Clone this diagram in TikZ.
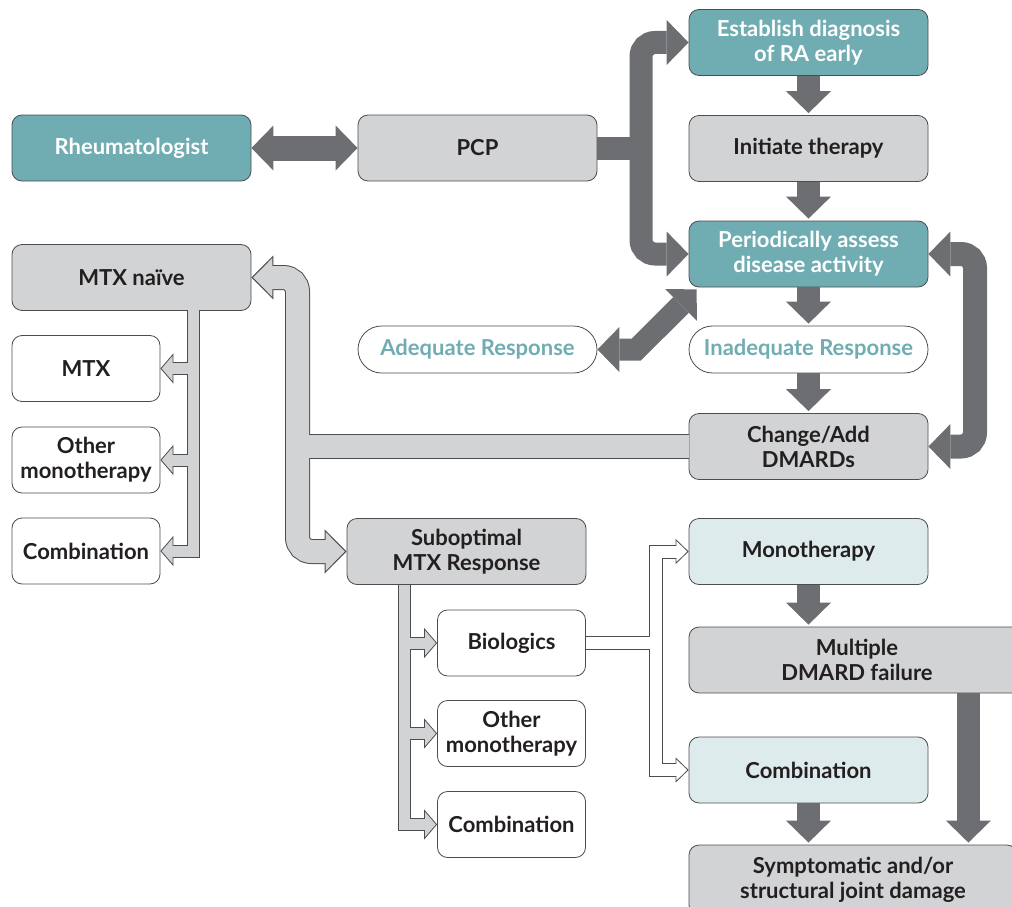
\documentclass[tikz,border=0pt]{standalone}
\usepackage{fontspec}
\setmainfont{Lato}
\usetikzlibrary{arrows.meta,calc}

\definecolor{raTeal}{RGB}{112,173,179}
\definecolor{raGray}{RGB}{209,211,212}
\definecolor{raDark}{RGB}{109,110,113}
\definecolor{raPale}{RGB}{221,235,236}
\definecolor{raEdge}{RGB}{77,77,79}
\definecolor{raInk}{RGB}{35,31,32}
\newcommand{\boxfont}{\bfseries\fontsize{22}{25}\selectfont}

\tikzset{
  box/.style={draw=raEdge, line width=0.8pt, rounded corners=10pt, minimum width=239pt,
    minimum height=66pt, inner sep=0pt, align=center, font=\boxfont, text=raInk},
  tealbox/.style={box, fill=raTeal, text=white},
  graybox/.style={box, fill=raGray},
  palebox/.style={box, fill=raPale},
  smallbox/.style={box, fill=white, minimum width=148pt},
  pill/.style={box, fill=white, rounded corners=23.5pt, minimum height=47pt, text=raTeal},
  dtip/.tip={Triangle[length=22pt,width=45pt,line width=0pt]},
  lhead/.tip={Triangle[length=22pt,width=44pt,line width=1pt,fill=raGray]},
  shead/.tip={Triangle[length=13pt,width=30pt,line width=0.8pt,fill=raGray]},
  whead/.tip={Triangle[length=13pt,width=25pt,line width=0.8pt,fill=white]},
  dshaft/.style={draw=raDark, line width=23pt},
  dflow/.style={dshaft, -{dtip}, shorten >=2pt},
  lout/.style={draw=raEdge, line width=25pt, rounded corners=14pt},
  lin/.style={draw=raGray, line width=23pt, rounded corners=14pt},
  sout/.style={draw=raEdge, line width=13pt},
  sin/.style={draw=raGray, line width=11pt},
  wout/.style={draw=raEdge, line width=14pt},
  win/.style={draw=white, line width=12pt}
}

\begin{document}
\begin{tikzpicture}[x=1pt, y=-1pt, line join=miter]
  \useasboundingbox (0,0) rectangle (1012,907);
  \clip (0,0) rectangle (1012,907);

  \node[tealbox] (rheum) at (131.5,148) {Rheumatologist};
  \node[graybox] (pcp) at (477.5,148) {PCP};
  \node[tealbox] (est) at (808.5,42.5) {Establish diagnosis\\of RA early};
  \node[graybox] (init) at (808.5,148.5) {Initiate therapy};
  \node[tealbox] (assess) at (808.5,254) {Periodically assess\\disease activity};
  \node[pill] (inad) at (808.5,349.5) {Inadequate Response};
  \node[pill] (adeq) at (477.5,349.5) {Adequate Response};
  \node[graybox] (dmard) at (808.5,446.5) {Change/Add\\DMARDs};
  \node[graybox] (naive) at (131.5,277.5) {MTX naïve};
  \node[smallbox] (mtx) at (86,368.5) {MTX};
  \node[smallbox] (mono1) at (86,460) {Other\\monotherapy};
  \node[smallbox] (cmb1) at (86,551) {Combination};
  \node[graybox] (subopt) at (466.5,551.5) {Suboptimal\\MTX Response};
  \node[smallbox] (bio) at (511.5,643) {Biologics};
  \node[smallbox] (mono2) at (511.5,733.5) {Other\\monotherapy};
  \node[smallbox] (cmb2) at (511.5,824.5) {Combination};
  \node[palebox] (mono3) at (808.5,551.5) {Monotherapy};
  \node[graybox, minimum width=336pt] (mult) at (857,660) {Multiple\\DMARD failure};
  \node[palebox] (cmb3) at (808.5,770) {Combination};
  \node[graybox, minimum width=328pt, minimum height=70pt] (symp) at (853,880) {Symptomatic and/or\\structural joint damage};

  \coordinate (pbus) at (641,148);
  \coordinate (rbus) at (975,350);
  \coordinate (lbus) at (297.5,446.5);
  \coordinate (nbus) at (193.5,310);
  \coordinate (sbus) at (404,584.5);
  \coordinate (bbus) at (655.5,643);
  \coordinate (acorner) at ($(adeq.east)+(39,0)$);
  \coordinate (atip) at ($(assess.south west)+(8,2)$);
  \coordinate (mfail) at ($(mult.south east)+(-57,0)$);

  \draw[dshaft, {dtip}-{dtip}, line width=25pt] (rheum.east) -- (pcp.west);
  \draw[dshaft] (pcp.east) -- (pbus);
  \draw[dshaft, {dtip}-{dtip}, rounded corners=14pt] (est.west) -| (pbus) |- (assess.west);
  \draw[dshaft, {dtip}-{dtip}, rounded corners=14pt, line width=24pt] (assess.east) -| (rbus) |- (dmard.east);
  \draw[dshaft, {dtip}-{dtip}, line width=22pt] (adeq.east) -- (acorner) -- (atip);
  \draw[dflow] (est.south) -- (init.north);
  \draw[dflow] (init.south) -- (assess.north);
  \draw[dflow] (assess.south) -- (inad.north);
  \draw[dflow] (inad.south) -- (dmard.north);
  \draw[dflow] (mono3.south) -- (mono3.south |- mult.north);
  \draw[dflow] (cmb3.south) -- (cmb3.south |- symp.north);
  \draw[dflow] (mfail) -- (mfail |- symp.north);

  \draw[lout, {lhead}-{lhead}] (naive.east) -| (lbus) |- (subopt.west);
  \draw[lout] (dmard.west) -- (lbus);
  \draw[lin, shorten <=20pt, shorten >=20pt] (naive.east) -| (lbus) |- (subopt.west);
  \draw[lin] (dmard.west) -- (lbus);

  \draw[sout, -{shead}] (nbus) |- (cmb1.east);
  \draw[sout, -{shead}] (nbus |- mtx.east) -- (mtx.east);
  \draw[sout, -{shead}] (nbus |- mono1.east) -- (mono1.east);
  \draw[sin, shorten >=11pt] (nbus) |- (cmb1.east);
  \draw[sin, shorten >=11pt] (nbus |- mtx.east) -- (mtx.east);
  \draw[sin, shorten >=11pt] (nbus |- mono1.east) -- (mono1.east);

  \draw[sout, -{shead}] (sbus) |- (cmb2.west);
  \draw[sout, -{shead}] (sbus |- bio.west) -- (bio.west);
  \draw[sout, -{shead}] (sbus |- mono2.west) -- (mono2.west);
  \draw[sin, shorten >=11pt] (sbus) |- (cmb2.west);
  \draw[sin, shorten >=11pt] (sbus |- bio.west) -- (bio.west);
  \draw[sin, shorten >=11pt] (sbus |- mono2.west) -- (mono2.west);

  \draw[wout, {whead}-{whead}] (mono3.west) -| (bbus) |- (cmb3.west);
  \draw[wout] (bio.east) -- (bbus);
  \draw[win, shorten <=11pt, shorten >=11pt] (mono3.west) -| (bbus) |- (cmb3.west);
  \draw[win] (bio.east) -- (bbus);
\end{tikzpicture}
\end{document}
